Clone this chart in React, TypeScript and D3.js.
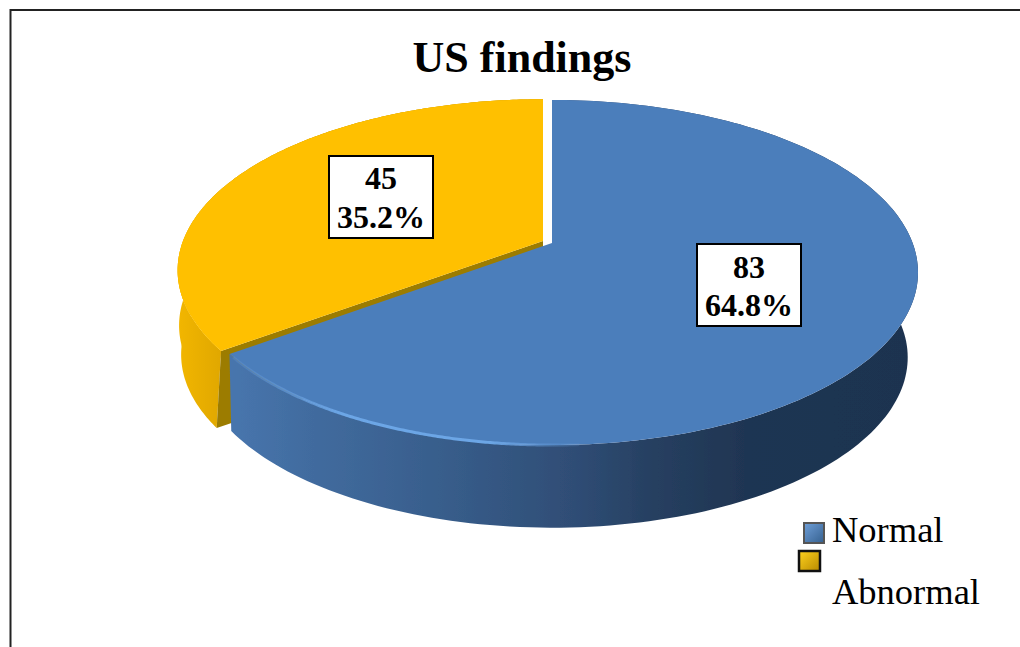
import React from "react";
import * as d3 from "d3";

const categories = ["Normal", "Abnormal"];
const counts = [83, 45];
const percents = ["64.8%", "35.2%"];
const title = "US findings";

const serif = "'Liberation Serif','Times New Roman',serif";

type Proj = { ax: number; ay: number; a: number; b: number; k: number };
const project = (p: Proj, ang: number): [number, number] => {
  const u = Math.sin(ang);
  const v = -Math.cos(ang);
  const d = 1 - p.k * v;
  return [p.ax + (p.b * u) / d, p.ay + (p.a * v) / d];
};

const blueTop: Proj = { ax: 552, ay: 243, a: 167.5, b: 360.6, k: 0.171 };
const blueBase: Proj = { ax: 552, ay: 320, a: 162, b: 347, k: 0.22 };
const orangeTop: Proj = { ax: 543, ay: 241, a: 166, b: 360, k: 0.171 };
const orangeBase: Proj = { ax: 543, ay: 317, a: 162, b: 353, k: 0.22 };
const orangeBaseUpper: Proj = { ax: 543, ay: 288, a: 162, b: 355, k: 0.22 };

const pieGen = d3.pie<number>().sort(null).startAngle(0).endAngle(2 * Math.PI);
const arcs = pieGen(counts);
const line = d3.line<[number, number]>();
const samples = (a0: number, a1: number) =>
  d3.range(0, 181).map((i) => a0 + ((a1 - a0) * i) / 180);

const face = (p: Proj, a0: number, a1: number) =>
  line([[p.ax, p.ay], ...samples(a0, a1).map((a) => project(p, a))])! + "Z";
const wall = (top: Proj, base: Proj, a0: number, a1: number) =>
  line([
    ...samples(a0, a1).map((a) => project(top, a)),
    ...samples(a1, a0).map((a) => project(base, a)),
  ])! + "Z";
const cutWall = (top: Proj, base: Proj, a: number) =>
  line([[top.ax, top.ay], project(top, a), project(base, a), [base.ax, base.ay]])! + "Z";

const blueSideStops: [number, string][] = [
  [0, "#4775ad"],
  [0.12, "#416b9e"],
  [0.3, "#385e8c"],
  [0.5, "#2f4d75"],
  [0.62, "#263f60"],
  [0.75, "#1f3552"],
  [1, "#1d3350"],
];

const labelBoxes = [
  { x: 697, y: 244, w: 104, h: 82, b1: 278, b2: 316 },
  { x: 329, y: 156, w: 104, h: 82, b1: 189, b2: 228 },
];

export default function App() {
  const [blue, orange] = arcs;
  return (
    <svg
      width={1020}
      height={647}
      style={{ position: "absolute", left: 0, top: 0, background: "#fff" }}
    >
      <defs>
        <linearGradient id="side" gradientUnits="userSpaceOnUse" x1={232} x2={918} y1={0} y2={0}>
          {blueSideStops.map(([o, c]) => (
            <stop key={o} offset={o} stopColor={c} />
          ))}
        </linearGradient>
        <linearGradient id="rim" gradientUnits="userSpaceOnUse" x1={232} x2={600} y1={0} y2={0}>
          <stop offset={0} stopColor="#5f93d2" stopOpacity={0.3} />
          <stop offset={0.3} stopColor="#6ca6e6" />
          <stop offset={0.7} stopColor="#6ca6e6" />
          <stop offset={1} stopColor="#5f93d2" stopOpacity={0} />
        </linearGradient>
        <linearGradient id="oside" gradientUnits="userSpaceOnUse" x1={178} x2={232} y1={0} y2={0}>
          <stop offset={0} stopColor="#f2b600" />
          <stop offset={1} stopColor="#dca400" />
        </linearGradient>
        <linearGradient id="swB" x1={0} y1={0} x2={1} y2={1}>
          <stop offset={0} stopColor="#6f9fd8" />
          <stop offset={1} stopColor="#35608f" />
        </linearGradient>
        <linearGradient id="swO" x1={0} y1={0} x2={1} y2={1}>
          <stop offset={0} stopColor="#ffd21e" />
          <stop offset={1} stopColor="#b88a00" />
        </linearGradient>
        <clipPath id="topClip">
          <rect x={0} y={98} width={1020} height={549} />
        </clipPath>
        <filter id="soft" x="-5%" y="-5%" width="110%" height="110%">
          <feGaussianBlur stdDeviation={0.7} />
        </filter>
      </defs>

      <path d="M10.5 647V10H1020" fill="none" stroke="#222" strokeWidth={2} />

      <text x={522} y={72} textAnchor="middle" fontFamily={serif} fontWeight="bold" fontSize={44} fill="#000">
        {title}
      </text>

      <g filter="url(#soft)" clipPath="url(#topClip)">
        <path d={wall(orangeTop, orangeBaseUpper, orange.startAngle, orange.endAngle)} fill="url(#oside)" />
        <path d={wall(orangeTop, orangeBase, orange.startAngle, orange.endAngle)} fill="url(#oside)" />
        <path d={cutWall(orangeTop, orangeBase, orange.startAngle)} fill="#9c7c00" />
        <path d={face(orangeTop, orange.startAngle, orange.endAngle)} fill="#ffc000" />
        <path d={wall(blueTop, blueBase, blue.startAngle, blue.endAngle)} fill="url(#side)" />
        <path d={face(blueTop, blue.startAngle, blue.endAngle)} fill="#4c7ebb" />
        <path
          d={line(samples(Math.PI * 0.98, blue.endAngle - 0.02).map((a) => project(blueTop, a)))!}
          fill="none"
          stroke="url(#rim)"
          strokeWidth={3}
        />
      </g>

      {labelBoxes.map((b, i) => (
        <g key={categories[i]}>
          <rect x={b.x} y={b.y} width={b.w} height={b.h} fill="#fff" stroke="#000" strokeWidth={2} />
          <g textAnchor="middle" fontFamily={serif} fontWeight="bold" fontSize={32} fill="#000">
            <text x={b.x + b.w / 2} y={b.b1}>{counts[i]}</text>
            <text x={b.x + b.w / 2} y={b.b2}>{percents[i]}</text>
          </g>
        </g>
      ))}

      <rect x={804} y={523} width={20} height={20} fill="url(#swB)" stroke="#555" strokeWidth={2} />
      <rect x={799} y={551} width={21} height={20} fill="url(#swO)" stroke="#111" strokeWidth={2.5} />
      <text x={832} y={542} fontFamily={serif} fontSize={36.5} fill="#000">{categories[0]}</text>
      <text x={832} y={604} fontFamily={serif} fontSize={36.5} fill="#000">{categories[1]}</text>
    </svg>
  );
}
